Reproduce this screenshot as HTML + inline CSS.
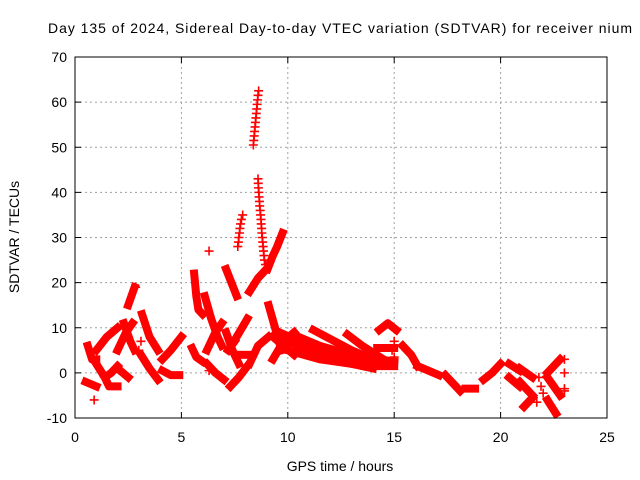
<!DOCTYPE html>
<html><head><meta charset="utf-8"><style>
html,body{margin:0;padding:0;background:#fff}
svg{display:block;font-family:"Liberation Sans",sans-serif}
</style></head><body>
<svg id="chart" width="640" height="480" xmlns="http://www.w3.org/2000/svg">
<text x="340" y="33" text-anchor="middle" font-size="14" textLength="584">Day 135 of 2024, Sidereal Day-to-day VTEC variation (SDTVAR) for receiver nium</text>
<text x="340" y="471" text-anchor="middle" font-size="14">GPS time / hours</text>
<text transform="translate(19,237) rotate(-90)" text-anchor="middle" font-size="14">SDTVAR / TECUs</text>
<g id="grid"></g>
<g id="marks"></g>
<rect x="75" y="57" width="532" height="361" fill="none" stroke="#000" stroke-width="1"/>
<g id="ticks"></g>
</svg>
<script>
const xTicks=[0,5,10,15,20,25];
const yTicks=[-10,0,10,20,30,40,50,60,70];
// tracks: each is a series of [hour, TECU] samples (dense satellite arcs)
const tracks=[
 [[2.5,15],[2.65,17],[2.8,19]],
 [[0.6,6],[0.8,3],[1.0,3]],
 [[1.0,5],[1.5,8],[2.0,10]],
 [[1.0,2],[1.4,-1],[1.6,-3],[2.0,-3]],
 [[1.4,-1],[1.7,0],[2.0,1.5]],
 [[0.5,-2],[1.0,-3]],
 [[2.0,5],[2.4,9],[2.7,11]],
 [[2.3,11],[2.6,7],[2.8,5]],
 [[2.0,1],[2.5,-1]],
 [[3.15,13],[3.5,8],[3.9,5]],
 [[3.1,4],[3.5,1],[3.9,-1.5]],
 [[4.1,3],[4.5,5],[5.0,8]],
 [[4.1,0.5],[4.5,-0.5],[4.9,-0.5]],
 [[5.6,22],[5.7,17],[5.8,14],[6.0,13]],
 [[6.1,17],[6.4,12],[6.7,8],[6.9,6]],
 [[6.2,5],[6.6,9],[6.9,11]],
 [[5.5,5.5],[5.7,3.5],[6.0,2.5]],
 [[6.2,2],[6.6,0],[7.0,-1.5]],
 [[7.1,23],[7.35,20],[7.6,17]],
 [[7.1,9],[7.4,5],[7.7,2]],
 [[7.2,5],[7.5,7]],
 [[7.6,8],[7.85,10],[8.1,12]],
 [[7.3,-3],[7.7,-1],[8.1,1.5]],
 [[7.8,4],[8.1,4]],
 [[8.2,18],[8.6,21],[9.0,23]],
 [[9.05,23],[9.3,26],[9.5,28],[9.75,31]],
 [[8.2,2],[8.6,6],[9.1,8]],
 [[9.1,15],[9.4,10],[9.7,5]],
 [[9.3,8],[9.8,6],[10.3,4]],
 [[9.3,3],[9.8,7],[10.3,9]],
 [[9.6,9],[12,4],[13.5,1.5],[15,1.5]],
 [[10,7],[12,3],[14,1]],
 [[10.5,8],[13,3],[15,2]],
 [[11.2,9.5],[13,5],[14.5,2]],
 [[12.8,8.5],[13.5,6],[14.5,3]],
 [[10,5],[11.5,3],[13,2]],
 [[10.2,8],[11.5,6],[13,4]],
 [[14.3,9.5],[14.7,11],[15.1,9.5]],
 [[14.2,5.5],[15,5.5]],
 [[14.3,3],[15,2.5]],
 [[15.4,6],[15.8,4],[16.1,1.5]],
 [[16.1,1.5],[16.6,0.5],[17.1,-0.5]],
 [[17.4,-0.5],[18.1,-4]],
 [[18.35,-3.5],[18.8,-3.5]],
 [[19.2,-1.5],[19.6,0],[20.0,2]],
 [[20.4,2],[20.9,0.5]],
 [[20.4,-1],[20.9,-3]],
 [[20.9,1],[21.5,-1]],
 [[20.9,-2],[21.5,-5]],
 [[21.1,-7.5],[21.5,-5.5]],
 [[22.2,0],[22.8,3]],
 [[22.2,-1],[22.8,-5]],
 [[22.2,-6],[22.6,-9]]
];
// sparse arcs drawn as individual plus markers
const points=[
 [8.38,50.5],[8.4,51.5],[8.42,52.5],[8.44,53.5],[8.46,54.5],[8.48,55.5],[8.5,56.5],[8.52,57.5],[8.54,58.5],[8.56,59.5],[8.58,60.5],[8.6,61.5],[8.63,62.5],
 [8.6,43],[8.61,42],[8.62,41],[8.64,40],[8.65,39],[8.67,38],[8.68,37],[8.7,36],[8.72,35],[8.74,34],[8.75,33],[8.77,32],[8.78,31],[8.8,30],[8.82,29],[8.84,28],[8.86,27],[8.88,26],[8.9,25],[8.95,24],
 [7.65,28],[7.68,29],[7.7,30],[7.73,31],[7.75,32],[7.78,33],[7.82,34],[7.88,35],
 [0.9,-6],[2.85,19],[6.3,27],[6.3,0.5],[14.9,5],[15.0,7],[15.0,3.5],[3.1,7],[3.0,5],
 [21.8,-1],[21.9,-3],[22.0,-4.5],[21.7,-6.5],
 [23.0,3],[23.0,0],[23.0,-3.5],[23.0,-4]
];
const X0=75,X1=607,Y0=57,Y1=418;
const xs=t=>X0+(t-0)/25*(X1-X0);
const ys=v=>Y1-(v+10)/80*(Y1-Y0);
const NS='http://www.w3.org/2000/svg';
const grid=document.getElementById('grid'),ticks=document.getElementById('ticks'),marks=document.getElementById('marks');
function mk(tag,attrs,parent){const e=document.createElementNS(NS,tag);for(const k in attrs)e.setAttribute(k,attrs[k]);parent.appendChild(e);return e;}
xTicks.forEach(t=>{const x=xs(t);
 if(t>0&&t<25){const g=mk('line',{x1:x,x2:x,y1:Y0,y2:Y1,stroke:'#a0a0a0','stroke-dasharray':'2,3'},grid);
 
 }
 mk('line',{x1:x,x2:x,y1:Y1,y2:Y1-6,stroke:'#000'},ticks);mk('line',{x1:x,x2:x,y1:Y0,y2:Y0+6,stroke:'#000'},ticks);
 const l=mk('text',{x:x,y:Y1+24,'text-anchor':'middle','font-size':'14'},ticks);l.textContent=t;
 
 });
yTicks.forEach(v=>{const y=ys(v);
 if(v>-10&&v<70){const g=mk('line',{x1:X0,x2:X1,y1:y,y2:y,stroke:'#a0a0a0','stroke-dasharray':'2,3'},grid);
 
 }
 mk('line',{x1:X0,x2:X0+6,y1:y,y2:y,stroke:'#000'},ticks);mk('line',{x1:X1,x2:X1-6,y1:y,y2:y,stroke:'#000'},ticks);
 const l=mk('text',{x:X0-8,y:y+5,'text-anchor':'end','font-size':'14'},ticks);l.textContent=v;
 
 });
tracks.forEach(tr=>{const p=mk('polyline',{points:tr.map(d=>xs(d[0])+','+ys(d[1])).join(' '),fill:'none',stroke:'#ff0000','stroke-width':'8','stroke-linecap':'square','stroke-linejoin':'round'},marks);
 
 });
points.forEach(d=>{const x=xs(d[0]),y=ys(d[1]);
 const p=mk('path',{d:`M${x-4.5},${y}H${x+4.5}M${x},${y-4.5}V${y+4.5}`,stroke:'#ff0000','stroke-width':'1.6',fill:'none'},marks);
 
 });
</script>
</body></html>
